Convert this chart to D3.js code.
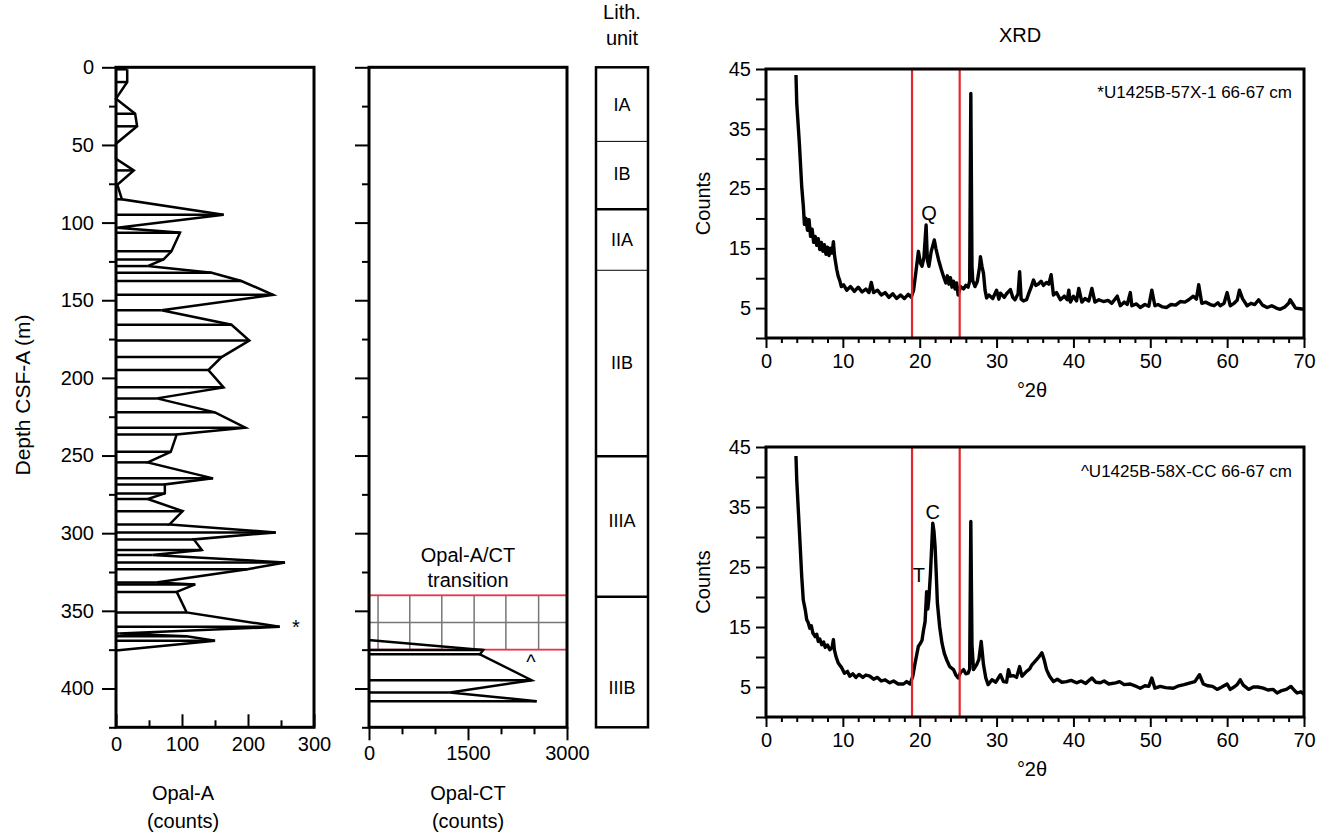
<!DOCTYPE html>
<html>
<head>
<meta charset="utf-8">
<script src="https://cdn.jsdelivr.net/npm/d3@7"></script>
<style>
  body { margin: 0; background: #fff; }
  text { font-family: "Liberation Sans", Arial, Helvetica, sans-serif; fill: #000; }
</style>
</head>
<body>
<div id="chart"></div>
<script>
// ---- data ----
const depthTicks = [0, 50, 100, 150, 200, 250, 300, 350, 400];
const depthMinor = [25, 75, 125, 175, 225, 275, 325, 375, 425];

const opalADepth = [1.3, 9.5, 20.2, 29.9, 38, 49.2, 58.9, 66.4, 75.6, 85, 94.9, 103.3, 106.5, 118.5, 123.7, 128, 132.3, 137.6, 146.5, 156.5, 165.8, 175.9, 186.6, 195, 206.1, 213.2, 222.2, 232.1, 236.4, 247.6, 254.4, 264.7, 268.6, 274.4, 278, 285.8, 294.4, 299.5, 304, 310.8, 314, 318.9, 323.2, 331.8, 333, 337.8, 351, 360.3, 364.6, 366.3, 369.3, 375.6];
const opalACounts = [17, 17, 0, 29, 32, 0, 0, 27, 2, 9, 163, 2, 97, 84, 72, 48, 145, 190, 238, 69, 175, 202, 160, 140, 163, 62, 150, 196, 92, 83, 48, 147, 74, 74, 48, 101, 81, 242, 118, 130, 55, 256, 199, 61, 120, 92, 107, 248, 5, 107, 150, 0];
const opalATicks = [0, 100, 200, 300];
const opalAMinor = [50, 150, 250];

const opalCTDepth = [369, 375.3, 378, 394.7, 402.6, 408.2];
const opalCTCounts = [30, 1730, 1680, 2465, 1225, 2540];
const opalCTTicks = [0, 1500, 3000];
const opalCTMinor = [500, 1000, 2000, 2500];
const transitionDepth = [340, 375];
const transitionGridX = [137, 618, 1103, 1593, 2074, 2570];
const transitionGridY = [357.5];

const lithUnits = ["IA", "IB", "IIA", "IIB", "IIIA", "IIIB"];
const lithTop = [0, 47.7, 91.4, 130.7, 250.4, 341];
const lithBase = [47.7, 91.4, 130.7, 250.4, 341, 425];
const lithLabelDepth = [24, 69, 111, 190.5, 292, 400];
const lithBaseThick = [false, true, false, true, true, true];

const xrdYTicks = [5, 15, 25, 35, 45];
const xrdYMinor = [0, 10, 20, 30, 40];
const xrdXTicks = [0, 10, 20, 30, 40, 50, 60, 70];
const xrdBox = [19, 25.2];

// U1425B-57X-1 66-67 cm
const xrd57Theta = [3.9, 4.0, 4.34, 4.65, 4.86, 5.0, 5.2, 5.4, 5.6, 5.8, 6.0, 6.2, 6.4, 6.6, 6.8, 7.0, 7.2, 7.4, 7.6, 7.8, 8.0, 8.2, 8.4, 8.6, 8.77, 8.9, 9.0, 9.2, 9.4, 9.6, 9.8, 10.1, 10.5, 11, 11.5, 12, 12.5, 13, 13.4, 13.7, 14, 14.5, 15, 15.5, 16, 16.5, 17, 17.5, 18, 18.5, 18.9, 19.2, 19.5, 19.83, 20.1, 20.3, 20.55, 20.83, 21.0, 21.2, 21.5, 21.9, 22.1, 22.45, 22.8, 23.1, 23.4, 23.6, 23.8, 24.0, 24.2, 24.4, 24.6, 24.8, 25.0, 25.3, 25.7, 26.0, 26.3, 26.5, 26.65, 26.8, 26.9, 27.2, 27.5, 27.8, 27.9, 28.1, 28.3, 28.5, 28.7, 29, 29.5, 30, 30.3, 30.5, 31, 31.3, 31.8, 32.1, 32.4, 32.8, 33.0, 33.2, 33.5, 33.9, 34.2, 34.5, 34.8, 35.1, 35.4, 35.8, 36.1, 36.5, 36.8, 37.1, 37.4, 37.8, 38.3, 38.8, 39.2, 39.4, 39.6, 40.0, 40.4, 40.7, 41.1, 41.5, 42, 42.4, 42.8, 43.3, 43.9, 44.5, 45, 45.7, 46.1, 46.6, 47, 47.4, 47.6, 48.2, 48.7, 49.3, 49.8, 50.2, 50.6, 51, 51.6, 52.1, 52.7, 53.3, 53.9, 54.5, 55, 55.6, 56.0, 56.3, 56.7, 57.2, 57.8, 58.3, 58.8, 59.1, 59.6, 60, 60.4, 60.9, 61.3, 61.6, 62, 62.6, 63.1, 63.6, 64.1, 64.6, 65.2, 65.8, 66.4, 66.9, 67.5, 68.0, 68.2, 68.6, 68.9, 69.5, 70];
const xrd57Counts = [44.0, 39.3, 32.6, 25.3, 22, 19, 20, 18, 19.8, 17, 18.2, 16, 17, 15.5, 16.6, 14.8, 16, 14.5, 15.6, 14, 15.2, 13.8, 15, 14.2, 16.1, 14, 13.1, 11.5, 10.3, 9.6, 8.6, 8.9, 8, 8.6, 7.8, 8.5, 7.7, 8.2, 7.6, 9.3, 7.6, 8, 7.2, 7.6, 6.8, 7.4, 6.6, 7.2, 6.6, 7.3, 6.8, 8, 11, 14.5, 12.5, 12, 13.5, 18.9, 13, 12, 14.5, 16.4, 15, 13.1, 11.5, 10.3, 9.2, 10.4, 9, 10.1, 8.5, 9.5, 8.2, 9.2, 7.2, 8.6, 8.2, 8.8, 8.5, 9.5, 40.9, 12, 9.6, 8.6, 9.5, 12, 13.6, 12, 10.8, 8, 6.7, 7.2, 6.6, 8, 6.5, 7.5, 6.8, 7.4, 8.1, 6.8, 6.4, 7.4, 11.1, 6.5, 6.2, 6.4, 7.5, 8.5, 9.7, 8.8, 9.0, 9.5, 8.8, 9.3, 9, 10.6, 7.2, 7.6, 6.4, 7, 6.4, 8, 6, 7, 6.2, 8.3, 6, 6.6, 6.2, 8.3, 6, 6.4, 6.1, 6.3, 5.8, 7, 5.4, 6, 5.6, 7.6, 5.4, 5.7, 5.1, 5.6, 5.3, 8, 5.4, 5.6, 5.2, 5.1, 5.6, 5.5, 6.1, 6, 6.4, 7, 6.5, 8.9, 5.8, 6, 5.6, 5.4, 5.9, 5.4, 5.8, 7.6, 5.4, 5.8, 6.3, 8, 6.6, 5.4, 5.8, 5.6, 6.4, 5.5, 5.1, 5.4, 5, 4.8, 5.2, 5.8, 6.4, 5.6, 5, 4.9, 4.8];

// U1425B-58X-CC 66-67 cm
const xrd58Theta = [3.9, 4.0, 4.34, 4.65, 4.85, 5.1, 5.3, 5.5, 5.7, 5.9, 6.1, 6.4, 6.6, 6.8, 7.0, 7.25, 7.5, 7.7, 8.0, 8.3, 8.6, 8.77, 8.9, 9.1, 9.4, 9.85, 10.2, 10.6, 10.9, 11.3, 11.7, 12.1, 12.6, 13.0, 13.5, 14, 14.5, 15, 15.5, 16.1, 16.6, 17.2, 17.9, 18.3, 18.75, 19.1, 19.4, 19.83, 20.1, 20.3, 20.5, 20.7, 20.9, 21.05, 21.2, 21.4, 21.7, 21.85, 22.0, 22.15, 22.3, 22.6, 22.9, 23.2, 23.5, 23.9, 24.4, 24.7, 25.0, 25.3, 25.7, 26.0, 26.3, 26.5, 26.65, 26.8, 27.0, 27.4, 27.7, 28.0, 28.3, 28.6, 28.9, 29.4, 29.9, 30.5, 30.9, 31.3, 31.55, 31.8, 32.2, 32.6, 33.0, 33.3, 33.9, 34.3, 34.6, 35.2, 35.5, 35.9, 36.2, 36.5, 36.9, 37.4, 37.9, 38.5, 39.1, 39.7, 40.4, 41, 41.6, 42.4, 42.9, 43.5, 44, 44.6, 45.5, 46, 46.6, 47.4, 48, 48.7, 49.3, 49.8, 50.2, 50.6, 51.3, 52, 53, 53.7, 54.4, 55.2, 55.8, 56.4, 56.9, 57.5, 58.1, 58.7, 59.3, 60.0, 60.4, 60.9, 61.3, 61.7, 62.1, 62.8, 63.4, 64, 64.7, 65.3, 66, 66.5, 67.1, 67.7, 68.3, 68.7, 69.1, 69.6, 70];
const xrd58Counts = [43.5, 39.5, 31.2, 23.4, 19.5, 17.9, 16.2, 15.7, 14.8, 15.2, 14, 13.4, 13.8, 12.6, 13, 12.05, 12.5, 11.6, 12, 11.2, 11.6, 12.9, 11.2, 10.1, 9, 8.2, 7.3, 7.6, 6.8, 7.2, 6.6, 7.1, 6.6, 7.0, 6.8, 6.3, 6.6, 6.0, 6.2, 5.7, 6, 5.5, 5.5, 5.9, 5.5, 6.8, 9, 11.8, 12.3, 12.8, 14.5, 15.9, 20.9, 18, 19.8, 24, 32.3, 31, 28.4, 24, 19, 15, 12.3, 10.6, 9.55, 8.4, 7.9, 7, 6.5, 7.4, 7.9, 7.2, 7.3, 8, 32.6, 12, 7.9, 8.7, 9.6, 12.6, 8.7, 6.5, 5.4, 6.2, 5.8, 7.05, 5.9, 5.8, 7.9, 6.8, 6.9, 6.6, 8.4, 6.8, 7.6, 8, 8.7, 9.55, 10, 10.7, 9.5, 7.9, 6.8, 5.9, 6.3, 5.8, 5.9, 6.1, 5.7, 6, 5.6, 6.5, 5.8, 5.7, 6, 5.5, 5.7, 5.9, 5.4, 5.5, 5.2, 4.8, 5.2, 5.1, 6.5, 4.8, 5.1, 4.9, 4.8, 5.2, 5.4, 5.7, 5.9, 7.05, 5.5, 5.2, 5.1, 4.6, 5, 5.5, 4.6, 5, 5.4, 6.2, 5.3, 4.6, 5, 5, 4.8, 4.5, 4.6, 4, 4.4, 4.6, 5.1, 4.5, 4, 4.2, 3.8];

// ---- layout ----
const W = 1332, H = 835;
const FS = 20;
const svg = d3.select("#chart").append("svg").attr("width", W).attr("height", H);

const y = d3.scaleLinear().domain([0, 425]).range([67.3, 727.3]);
const xA = d3.scaleLinear().domain([0, 300]).range([116, 314]);
const xCT = d3.scaleLinear().domain([0, 3000]).range([369, 567]);
const lithX = [596, 648];

function styleAxis(g, width) {
  g.select(".domain").remove();
  g.selectAll("line").attr("stroke", "#000").attr("stroke-width", width || 2);
  g.selectAll("text").attr("font-size", FS).attr("font-family", "Liberation Sans, Arial, sans-serif").attr("fill", "#000");
}

function depthAxis(x0, labels) {
  svg.append("g").attr("transform", `translate(${x0},0)`)
    .call(d3.axisLeft(y).tickValues(depthMinor).tickSize(7).tickFormat(""))
    .call(styleAxis);
  svg.append("g").attr("transform", `translate(${x0},0)`)
    .call(d3.axisLeft(y).tickValues(depthTicks).tickSize(14).tickPadding(8).tickFormat(labels ? d3.format("d") : ""))
    .call(styleAxis);
}

// depth profile: polyline + horizontal lines from zero to each sample
function profile(x, depths, counts) {
  const pts = depths.map((d, i) => [counts[i], d]);
  svg.append("g").selectAll("line").data(pts).join("line")
    .attr("x1", x(0)).attr("x2", d => x(d[0]))
    .attr("y1", d => y(d[1])).attr("y2", d => y(d[1]))
    .attr("stroke", "#000").attr("stroke-width", 2.5);
  svg.append("path").datum(pts)
    .attr("fill", "none").attr("stroke", "#000").attr("stroke-width", 2.5)
    .attr("stroke-linejoin", "miter")
    .attr("d", d3.line().x(d => x(d[0])).y(d => y(d[1])));
}

function frame(x0, x1, y0, y1, w) {
  svg.append("rect").attr("x", x0).attr("y", y0).attr("width", x1 - x0).attr("height", y1 - y0)
    .attr("fill", "none").attr("stroke", "#000").attr("stroke-width", w || 3);
}

function label(x, yy, txt, opts) {
  const t = svg.append("text").attr("x", x).attr("y", yy).attr("text-anchor", (opts && opts.anchor) || "middle")
    .attr("dominant-baseline", "central").attr("font-size", (opts && opts.size) || FS).text(txt);
  if (opts && opts.rotate) t.attr("transform", `rotate(-90,${x},${yy})`);
  return t;
}

// ---- Opal-A panel ----
depthAxis(116, true);
profile(xA, opalADepth, opalACounts);
svg.append("g").attr("transform", `translate(0,${y(425)})`)
  .call(d3.axisBottom(xA).tickValues(opalAMinor).tickSize(-7).tickFormat(""))
  .call(styleAxis);
svg.append("g").attr("transform", `translate(0,${y(425)})`)
  .call(d3.axisBottom(xA).tickValues(opalATicks).tickSize(-13).tickPadding(10).tickFormat(d3.format("d")))
  .call(styleAxis);
frame(xA(0), xA(300), y(0), y(425));
label(296, 627, "*");
label(183, 793, "Opal-A");
label(183, 821, "(counts)");
label(22, 395, "Depth CSF-A (m)", { rotate: true, size: 21 });

// ---- Opal-CT panel ----
depthAxis(369, false);
// transition box
const tb = svg.append("g");
tb.selectAll("line.gx").data(transitionGridX).join("line").attr("class", "gx")
  .attr("x1", d => xCT(d)).attr("x2", d => xCT(d))
  .attr("y1", y(transitionDepth[0])).attr("y2", y(transitionDepth[1]))
  .attr("stroke", "#777").attr("stroke-width", 1.5);
tb.selectAll("line.gy").data(transitionGridY).join("line").attr("class", "gy")
  .attr("x1", xCT(0)).attr("x2", xCT(3000))
  .attr("y1", d => y(d)).attr("y2", d => y(d))
  .attr("stroke", "#777").attr("stroke-width", 1.5);
profile(xCT, opalCTDepth, opalCTCounts);
tb.append("rect").attr("x", xCT(0)).attr("y", y(transitionDepth[0]))
  .attr("width", xCT(3000) - xCT(0)).attr("height", y(transitionDepth[1]) - y(transitionDepth[0]))
  .attr("fill", "none").attr("stroke", "#e8334b").attr("stroke-width", 1.8);
svg.append("g").attr("transform", `translate(0,${y(425)})`)
  .call(d3.axisBottom(xCT).tickValues(opalCTMinor).tickSize(7).tickFormat(""))
  .call(styleAxis);
svg.append("g").attr("transform", `translate(0,${y(425)})`)
  .call(d3.axisBottom(xCT).tickValues(opalCTTicks).tickSize(13).tickPadding(6).tickFormat(d3.format("d")))
  .call(styleAxis);
frame(xCT(0), xCT(3000), y(0), y(425));
label(468, 555, "Opal-A/CT");
label(468, 580, "transition");
label(531, 662, "^");
label(468, 793, "Opal-CT");
label(468, 821, "(counts)");

// ---- Lithologic units ----
const lith = svg.append("g");
lith.selectAll("line").data(lithBase.slice(0, -1)).join("line")
  .attr("x1", lithX[0]).attr("x2", lithX[1])
  .attr("y1", d => y(d)).attr("y2", d => y(d))
  .attr("stroke", "#000").attr("stroke-width", (d, i) => lithBaseThick[i] ? 2.5 : 1);
lith.selectAll("text").data(lithUnits).join("text")
  .attr("x", (lithX[0] + lithX[1]) / 2).attr("y", (d, i) => y(lithLabelDepth[i]))
  .attr("text-anchor", "middle").attr("dominant-baseline", "central")
  .attr("font-size", 18).text(d => d);
frame(lithX[0], lithX[1], y(0), y(425), 2.5);
label(622, 12, "Lith.");
label(622, 38, "unit");

// ---- XRD panels ----
const xX = d3.scaleLinear().domain([0, 70]).range([766, 1304]);

function xrdPanel(top, bottom, theta, counts, sample, marks) {
  const yy = d3.scaleLinear().domain([0, 45]).range([bottom, top]);
  svg.append("g").attr("transform", `translate(${xX(0)},0)`)
    .call(d3.axisLeft(yy).tickValues(xrdYMinor.concat(xrdYTicks)).tickSize(10).tickPadding(5)
      .tickFormat(d => xrdYTicks.includes(d) ? d : ""))
    .call(styleAxis);
  svg.append("g").attr("transform", `translate(0,${bottom})`)
    .call(d3.axisBottom(xX).tickValues(d3.range(2, 70, 2).filter(d => d % 10)).tickSize(5).tickFormat(""))
    .call(styleAxis);
  svg.append("g").attr("transform", `translate(0,${bottom})`)
    .call(d3.axisBottom(xX).tickValues(xrdXTicks).tickSize(10).tickPadding(6).tickFormat(d3.format("d")))
    .call(styleAxis);
  const pts = theta.map((t, i) => [t, counts[i]]);
  svg.append("path").datum(pts)
    .attr("fill", "none").attr("stroke", "#000").attr("stroke-width", 3.4)
    .attr("stroke-linejoin", "round")
    .attr("d", d3.line().x(d => xX(d[0])).y(d => yy(d[1])));
  svg.append("rect").attr("x", xX(xrdBox[0])).attr("y", yy(45))
    .attr("width", xX(xrdBox[1]) - xX(xrdBox[0])).attr("height", yy(0) - yy(45))
    .attr("fill", "none").attr("stroke", "#e3262b").attr("stroke-width", 2.2);
  frame(xX(0), xX(70), yy(45), yy(0));
  label(1292, yy(41), sample, { anchor: "end", size: 17 });
  marks.forEach(m => label(xX(m[0]), yy(m[1]), m[2]));
  label(703, (top + bottom) / 2, "Counts", { rotate: true });
  label(1032, bottom + 52, "°2θ");
}

label(1020, 35, "XRD");
xrdPanel(69, 338, xrd57Theta, xrd57Counts, "*U1425B-57X-1 66-67 cm", [[21.2, 20.9, "Q"]]);
xrdPanel(447, 717, xrd58Theta, xrd58Counts, "^U1425B-58X-CC 66-67 cm", [[21.7, 34.2, "C"], [19.9, 23.6, "T"]]);
</script>
</body>
</html>
